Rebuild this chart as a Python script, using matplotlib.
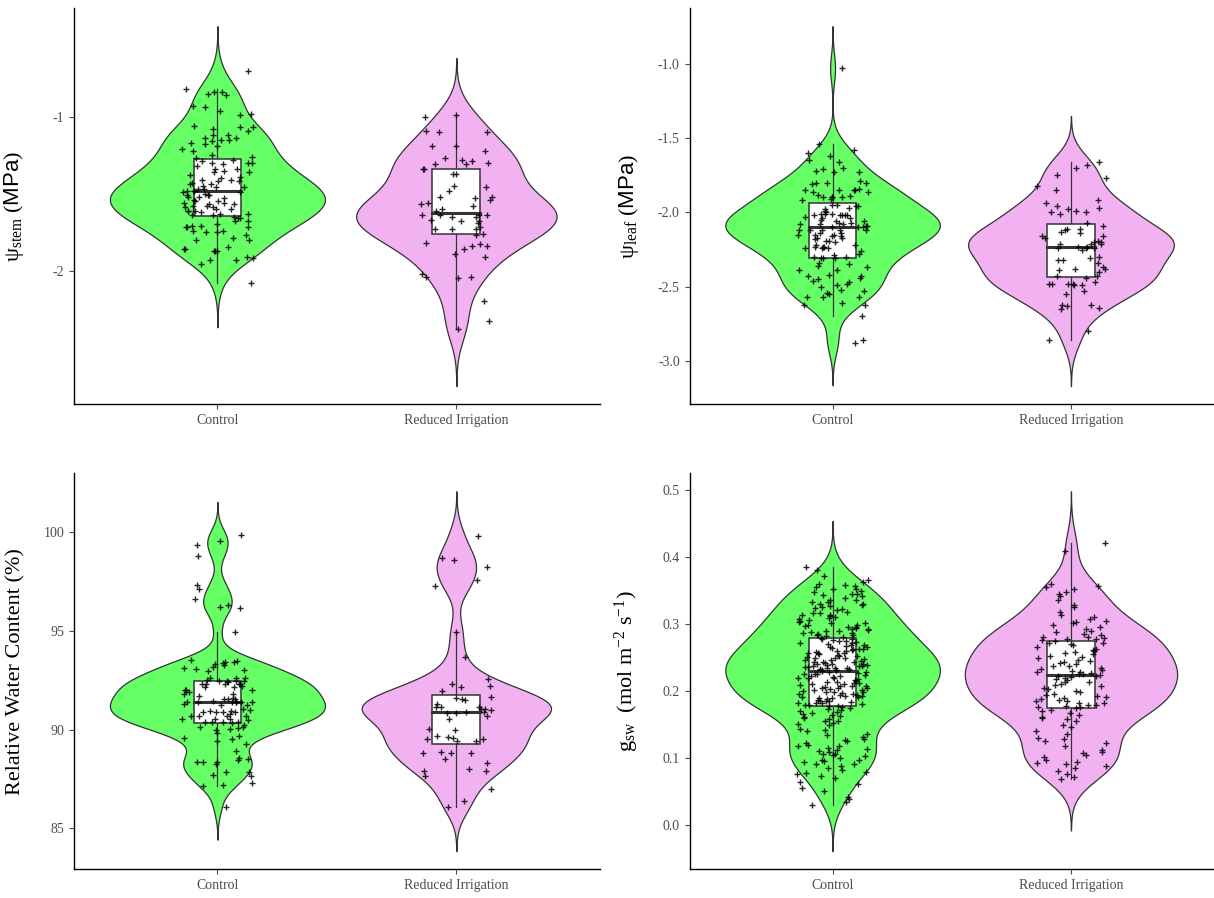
import numpy as np
import matplotlib
matplotlib.use("Agg")
import matplotlib.pyplot as plt

plt.rcParams['font.family'] = ['Liberation Serif', 'DejaVu Serif']
plt.rcParams['mathtext.fontset'] = 'custom'
plt.rcParams['mathtext.rm'] = 'Liberation Serif'
plt.rcParams['mathtext.it'] = 'Liberation Serif:italic'
plt.rcParams['mathtext.sf'] = 'Liberation Sans'
plt.rcParams['axes.unicode_minus'] = False

groups = ['Control', 'Reduced Irrigation']
fills = ['#66FF66', '#F2B2F2']

# stem water potential (MPa)
stem_control = [
    -0.70, -0.82, -0.84, -0.85, -0.84, -0.86, -0.93, -0.94, -0.96, -0.98, -0.99,
    -1.06, -1.07, -1.07, -1.08, -1.09, -1.12, -1.12, -1.14, -1.14, -1.15, -1.15,
    -1.16, -1.17, -1.18, -1.19,
    -1.21, -1.22, -1.25, -1.26, -1.28, -1.29, -1.30, -1.27,
    -1.31, -1.30, -1.30, -1.34, -1.34, -1.35, -1.36, -1.36, -1.32,
    -1.41, -1.42, -1.41, -1.42, -1.43, -1.44, -1.45, -1.38, -1.39, -1.40, -1.44, -1.46,
    -1.46, -1.47, -1.47, -1.48, -1.48, -1.48, -1.49, -1.49, -1.52,
    -1.51, -1.53, -1.52, -1.51, -1.50, -1.51, -1.55, -1.54, -1.56,
    -1.55, -1.56, -1.58, -1.60, -1.61, -1.59, -1.57, -1.59, -1.61, -1.62, -1.61,
    -1.57, -1.60, -1.58,
    -1.64, -1.63, -1.66, -1.64, -1.63, -1.65, -1.66, -1.68,
    -1.68, -1.71, -1.72, -1.70, -1.71, -1.72, -1.72, -1.74,
    -1.75, -1.77, -1.75, -1.74,
    -1.79, -1.80, -1.80,
    -1.85, -1.86, -1.86, -1.87, -1.87, -1.87,
    -1.91, -1.93, -1.92, -1.96, -1.93,
    -2.08,
]
stem_reduced = [
    -1.00, -0.99, -1.10, -1.10, -1.09, -1.19, -1.19, -1.22,
    -1.27, -1.28, -1.29, -1.30, -1.31, -1.31, -1.34, -1.34, -1.37, -1.37,
    -1.45, -1.46, -1.48, -1.52, -1.52, -1.53, -1.54,
    -1.56, -1.57, -1.58, -1.60, -1.61,
    -1.64, -1.64, -1.65, -1.64, -1.65, -1.64,
    -1.68, -1.68, -1.67, -1.69,
    -1.72, -1.73, -1.73, -1.73, -1.77, -1.76,
    -1.82, -1.84, -1.83, -1.84,
    -1.86, -1.89, -1.91,
    -2.02, -2.04, -2.04, -2.05,
    -2.20, -2.33, -2.38,
]

# leaf water potential (MPa)
leaf_control = [
    -1.03,
    -1.54, -1.58, -1.60,
    -1.62, -1.66, -1.65,
    -1.73, -1.71, -1.73, -1.70, -1.72,
    -1.79, -1.80, -1.80, -1.80, -1.81,
    -1.85, -1.85, -1.85, -1.86, -1.86, -1.85, -1.84,
    -1.90, -1.90, -1.90, -1.88, -1.89, -1.91, -1.90, -1.92,
    -1.95, -1.96, -1.98, -1.96, -1.95, -1.97, -1.99,
    -2.01, -2.02, -2.02, -2.00, -2.02, -2.01, -2.02, -2.02, -2.01,
    -2.03, -2.04, -2.05,
    -2.04, -2.06, -2.06, -2.07, -2.07, -2.08, -2.08, -2.08, -2.09,
    -2.09, -2.10, -2.12, -2.12, -2.14, -2.14, -2.12, -2.12, -2.12, -2.10, -2.10,
    -2.15, -2.15, -2.16, -2.17, -2.19, -2.18, -2.20, -2.17, -2.15, -2.16,
    -2.19, -2.22, -2.24, -2.23, -2.23, -2.24, -2.24, -2.22, -2.23,
    -2.28, -2.31, -2.31, -2.30, -2.31, -2.30, -2.29, -2.26,
    -2.35, -2.39, -2.34, -2.37, -2.39, -2.36,
    -2.44, -2.43, -2.45, -2.43, -2.42,
    -2.49, -2.48, -2.46, -2.50, -2.47,
    -2.53, -2.55, -2.52, -2.54, -2.57,
    -2.61, -2.62, -2.62, -2.57, -2.57,
    -2.70,
    -2.88, -2.86,
]
leaf_reduced = [
    -1.66, -1.68, -1.70,
    -1.75, -1.77, -1.82, -1.85,
    -1.92, -1.94, -1.96, -1.97, -1.98, -1.99, -2.00, -2.00, -2.01,
    -2.07, -2.09,
    -2.11, -2.11, -2.12, -2.13,
    -2.14, -2.16, -2.16, -2.17, -2.19,
    -2.20, -2.20, -2.21, -2.21, -2.21,
    -2.23, -2.24, -2.24, -2.23, -2.25, -2.24,
    -2.30, -2.32, -2.31, -2.34, -2.32,
    -2.37, -2.39, -2.38, -2.38, -2.40,
    -2.43, -2.44, -2.43,
    -2.47, -2.48, -2.48, -2.49, -2.48, -2.48, -2.49,
    -2.53,
    -2.55, -2.62, -2.62, -2.65, -2.63, -2.64,
    -2.80, -2.86,
]

# relative water content (%)
rwc_control = [
    99.85, 99.55, 99.35, 98.8, 97.3, 97.1, 96.6, 96.3, 96.2, 96.15, 94.95,
    93.5, 93.4, 93.35, 93.4, 93.3, 93.25, 93.1, 93.45, 93.0, 93.15, 92.95, 93.05,
    92.6, 92.45, 92.3, 92.45, 92.6, 92.45, 92.45, 92.4, 92.5, 92.6,
    92.3, 92.15, 92.0, 92.15, 92.3, 92.2, 92.0, 92.3, 92.3,
    92.0, 91.9, 91.7, 91.55, 91.8, 91.55, 91.55, 91.6, 91.8,
    91.4, 91.25, 91.3, 91.05, 91.4, 91.4, 91.4, 91.4, 91.45, 91.4, 91.4, 91.25,
    90.9, 90.95, 90.8, 90.9, 90.7, 90.9, 90.95, 90.7, 90.9, 91.0,
    90.55, 90.7, 90.5, 90.4, 90.7, 90.55, 90.4, 90.55, 90.35, 90.4,
    90.15, 90.1, 90.0, 90.25, 90.4, 90.05, 90.15,
    89.85, 89.55, 89.7, 89.6, 89.4, 89.25,
    88.9, 88.55, 88.35, 88.25, 88.5, 88.45, 88.35, 88.35,
    87.85, 87.85, 87.7, 87.65, 87.2, 87.15, 87.3,
    86.1,
]
rwc_reduced = [
    99.8, 98.7, 98.55, 98.2, 97.55, 97.25, 94.95, 93.65,
    92.55, 92.3, 92.2, 92.15,
    91.95, 91.65, 91.5, 91.55, 91.6,
    91.3, 91.15, 91.15, 91.15, 91.05, 91.0,
    90.85, 90.7, 90.9, 90.85, 91.05, 90.9,
    90.55,
    90.0, 90.05,
    89.7, 89.5, 89.6, 89.5, 89.65, 89.4, 89.4,
    88.85, 88.8, 88.8, 88.8,
    88.3, 88.5,
    87.9, 87.9, 87.65, 88.0,
    87.0,
    86.1, 86.4,
]

# stomatal conductance (mol m-2 s-1)
gs_control = [
    0.385, 0.381, 0.372, 0.362, 0.360, 0.358, 0.365,
    0.356, 0.352, 0.348, 0.345, 0.344, 0.341, 0.352, 0.349, 0.343, 0.355,
    0.338, 0.335, 0.332, 0.330, 0.329, 0.327, 0.325, 0.324, 0.322, 0.321, 0.333, 0.328, 0.336,
    0.318, 0.316, 0.314, 0.312, 0.311, 0.309, 0.307, 0.305, 0.303, 0.302, 0.313, 0.317, 0.306, 0.301,
    0.299, 0.298, 0.296, 0.295, 0.294, 0.292, 0.291, 0.290, 0.288, 0.287, 0.286, 0.285,
    0.284, 0.283, 0.297, 0.293, 0.289, 0.282,
    0.280, 0.279, 0.277, 0.276, 0.275, 0.274, 0.272, 0.271, 0.270, 0.268,
    0.267, 0.266, 0.264, 0.263, 0.262, 0.261, 0.259, 0.258, 0.257, 0.256,
    0.255, 0.254, 0.253, 0.252, 0.251, 0.249, 0.248, 0.247, 0.246, 0.245,
    0.244, 0.243, 0.242, 0.241, 0.240, 0.239, 0.239, 0.238, 0.237, 0.236,
    0.235, 0.234, 0.233, 0.232, 0.232, 0.231, 0.231, 0.230, 0.278, 0.273,
    0.269, 0.265, 0.260, 0.250, 0.244, 0.238, 0.234, 0.262, 0.257, 0.249,
    0.241, 0.236, 0.233,
    0.229, 0.228, 0.227, 0.226, 0.225, 0.224, 0.222, 0.221, 0.220, 0.219,
    0.218, 0.217, 0.215, 0.214, 0.213, 0.212, 0.211, 0.210, 0.209, 0.208,
    0.207, 0.206, 0.205, 0.204, 0.203, 0.202, 0.201, 0.200, 0.199, 0.198,
    0.197, 0.196, 0.195, 0.194, 0.193, 0.192, 0.191, 0.190, 0.189, 0.188,
    0.187, 0.186, 0.185, 0.184, 0.183, 0.182, 0.181, 0.180, 0.179, 0.178,
    0.177, 0.226, 0.219, 0.212, 0.205, 0.198, 0.191, 0.186, 0.182, 0.178,
    0.223, 0.208, 0.194,
    0.175, 0.174, 0.172, 0.171, 0.169, 0.168, 0.166, 0.165, 0.163, 0.162,
    0.160, 0.158, 0.156, 0.155, 0.153, 0.151,
    0.149, 0.144, 0.142, 0.140, 0.136, 0.134, 0.131,
    0.129, 0.127, 0.125, 0.122, 0.120, 0.119, 0.118, 0.116, 0.114, 0.112, 0.111,
    0.109, 0.107, 0.106, 0.105, 0.103, 0.100, 0.098, 0.097, 0.096, 0.094, 0.092, 0.091,
    0.088, 0.085, 0.083, 0.080, 0.078, 0.076, 0.074, 0.071,
    0.065, 0.062, 0.056, 0.052, 0.042, 0.040, 0.035, 0.030,
]
gs_reduced = [
    0.421, 0.408, 0.360, 0.357, 0.355, 0.352, 0.348, 0.345, 0.342, 0.336,
    0.328, 0.325, 0.318, 0.313, 0.311, 0.308, 0.305, 0.303, 0.301, 0.298,
    0.296, 0.292, 0.290, 0.288, 0.285, 0.283, 0.281, 0.280, 0.279, 0.278,
    0.277, 0.276,
    0.274, 0.272, 0.271, 0.270, 0.268, 0.266, 0.263, 0.261, 0.260, 0.258,
    0.256, 0.255, 0.253, 0.251, 0.249, 0.247, 0.245, 0.244, 0.242, 0.240,
    0.238, 0.237, 0.235, 0.233, 0.232, 0.230, 0.229, 0.228, 0.227, 0.226,
    0.225, 0.224,
    0.223, 0.222, 0.221, 0.219, 0.218, 0.216, 0.214, 0.213, 0.211, 0.209,
    0.207, 0.205, 0.203, 0.200, 0.198, 0.196, 0.194, 0.193, 0.191, 0.190,
    0.188, 0.187, 0.186, 0.185, 0.183, 0.182, 0.180, 0.179, 0.178, 0.177,
    0.176, 0.175,
    0.172, 0.170, 0.167, 0.164, 0.162, 0.160, 0.158, 0.155, 0.150, 0.146,
    0.141, 0.136, 0.130, 0.128, 0.126, 0.122, 0.118, 0.113, 0.110, 0.108,
    0.105, 0.102, 0.098, 0.095, 0.093, 0.091, 0.088, 0.085, 0.081, 0.077,
    0.072, 0.069,
]

panels = [
    ([stem_control, stem_reduced], r'$\mathrm{\psi_{stem}}\ (\mathsf{MPa})$', [-2, -1], ['-2', '-1']),
    ([leaf_control, leaf_reduced], r'$\mathrm{\psi_{leaf}}\ (\mathsf{MPa})$',
     [-3.0, -2.5, -2.0, -1.5, -1.0], ['-3.0', '-2.5', '-2.0', '-1.5', '-1.0']),
    ([rwc_control, rwc_reduced], 'Relative Water Content (%)', [85, 90, 95, 100], ['85', '90', '95', '100']),
    ([gs_control, gs_reduced], r'$\mathrm{g_{sw}\ \ (mol\ m^{-2}\ s^{-1})}$',
     [0.0, 0.1, 0.2, 0.3, 0.4, 0.5], ['0.0', '0.1', '0.2', '0.3', '0.4', '0.5']),
]
axes_rects = [
    [0.061, 0.550, 0.433, 0.441],
    [0.568, 0.550, 0.432, 0.441],
    [0.061, 0.032, 0.433, 0.441],
    [0.568, 0.032, 0.432, 0.441],
]


def nrd0(x):
    sd = np.std(x, ddof=1)
    q75, q25 = np.percentile(x, [75, 25])
    lo = min(sd, (q75 - q25) / 1.34)
    return 0.9 * lo * len(x) ** -0.2


def density(x):
    bw = nrd0(x)
    grid = np.linspace(x.min() - 3 * bw, x.max() + 3 * bw, 512)
    z = (grid[:, None] - x[None, :]) / bw
    d = np.exp(-0.5 * z ** 2).sum(axis=1) / (len(x) * bw * np.sqrt(2 * np.pi))
    return grid, d


def jitter(n, seed, width=0.15):
    # hashed horizontal offsets, so repeated runs give the same point cloud
    k = np.arange(1, n + 1) + 97.0 * seed
    u = (np.sin(k * 12.9898) * 43758.5453) % 1.0
    return (u - 0.5) * 2 * width


fig = plt.figure(figsize=(12.14, 8.98), dpi=100)

for p, ((series, ylabel, yticks, yticklabels), rect) in enumerate(zip(panels, axes_rects)):
    ax = fig.add_axes(rect)
    dens = [density(np.asarray(v, dtype=float)) for v in series]
    dmax = max(d.max() for _, d in dens)
    lo = min(g.min() for g, _ in dens)
    hi = max(g.max() for g, _ in dens)

    for i, (vals, (grid, d)) in enumerate(zip(series, dens)):
        pos = i + 1
        vals = np.asarray(vals, dtype=float)
        half = d / dmax * 0.45
        ax.fill_betweenx(grid, pos - half, pos + half, facecolor=fills[i],
                         edgecolor='#333333', linewidth=0.9, zorder=1)

        q1, med, q3 = np.percentile(vals, [25, 50, 75])
        iqr = q3 - q1
        wlo = vals[vals >= q1 - 1.5 * iqr].min()
        whi = vals[vals <= q3 + 1.5 * iqr].max()
        ax.plot([pos, pos], [whi, q3], color='#333333', lw=0.9, zorder=2)
        ax.plot([pos, pos], [q1, wlo], color='#333333', lw=0.9, zorder=2)
        ax.add_patch(plt.Rectangle((pos - 0.1, q1), 0.2, q3 - q1, facecolor='white',
                                   edgecolor='#333333', lw=1.1, zorder=2))
        ax.plot([pos - 0.1, pos + 0.1], [med, med], color='#333333', lw=2.2, zorder=3)

        ax.plot(pos + jitter(len(vals), 2 * p + i), vals, linestyle='none', marker='+',
                ms=4, mew=1.0, color='black', alpha=0.85, zorder=4)

    pad = (hi - lo) * 0.05
    ax.set_ylim(lo - pad, hi + pad)
    ax.set_xlim(0.4, 2.6)
    ax.set_xticks([1, 2])
    ax.set_xticklabels(groups)
    ax.set_yticks(yticks)
    ax.set_yticklabels(yticklabels)
    ax.tick_params(colors='#4D4D4D', labelsize=10, length=3.5, width=0.8)
    for side in ['top', 'right']:
        ax.spines[side].set_visible(False)
    for side in ['left', 'bottom']:
        ax.spines[side].set_color('black')
        ax.spines[side].set_linewidth(1.0)
    ax.set_ylabel(ylabel, fontsize=16, color='black')
    ax.yaxis.set_label_coords(-0.092, 0.5)

fig.savefig('out.png', dpi=100)
